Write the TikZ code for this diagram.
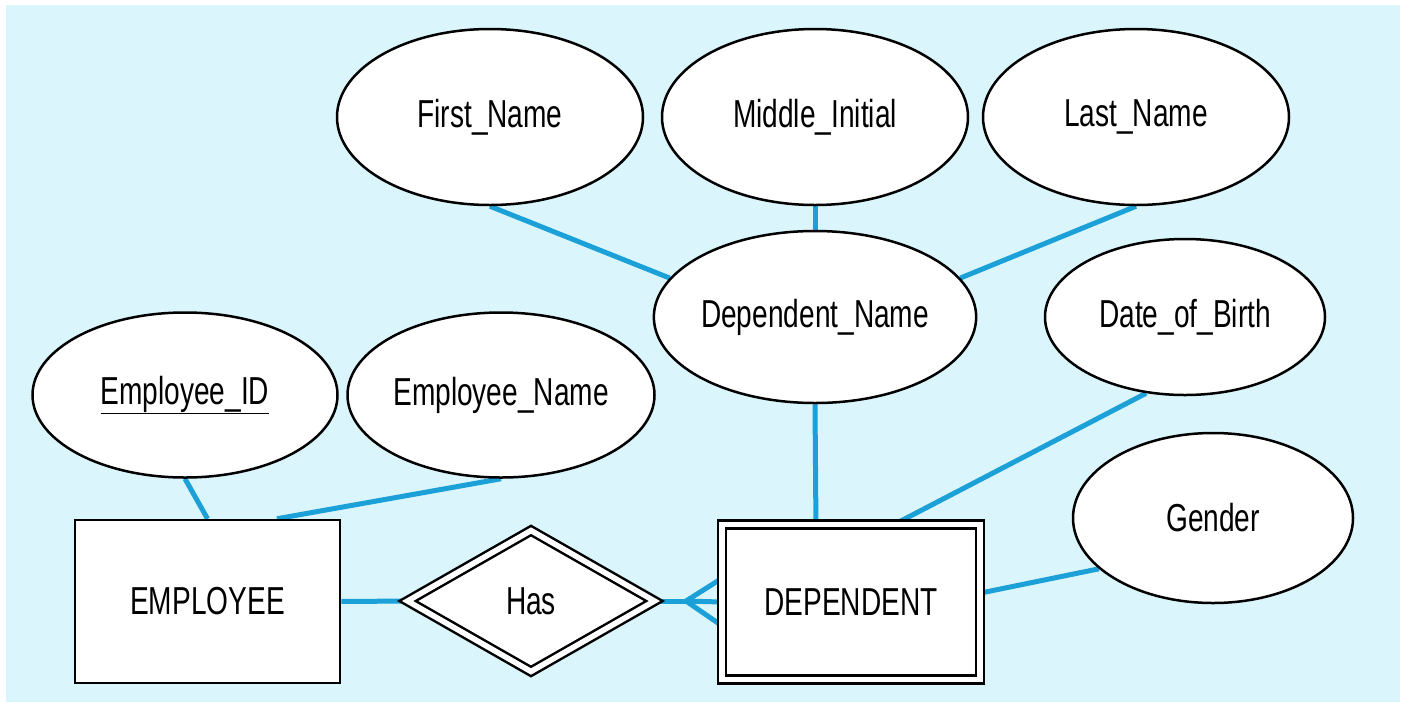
\documentclass[tikz,border=0pt]{standalone}
\usepackage{fontspec}
\setmainfont[FakeStretch=0.72]{Liberation Sans}
\usetikzlibrary{shapes.geometric}
\definecolor{paleblue}{HTML}{DAF5FC}
\definecolor{linkblue}{HTML}{1CA0D8}
\pgfdeclarelayer{back}
\pgfdeclarelayer{links}
\pgfsetlayers{back,links,main}

\begin{document}
\begin{tikzpicture}[x=1pt,y=-1pt]
	\tikzstyle{attr}=[ellipse, draw, fill=white, line width=2.5pt, inner sep=0pt, font=\fontsize{39}{44}\selectfont]
	\tikzstyle{entity}=[rectangle, draw, fill=white, line width=2.5pt, inner sep=0pt, font=\fontsize{39}{44}\selectfont]
	\tikzstyle{weak}=[entity, double, double distance=5.5pt]
	\tikzstyle{idrel}=[diamond, draw, fill=white, double, double distance=5.5pt, line width=2.5pt, inner sep=0pt, font=\fontsize{39}{44}\selectfont]
	\tikzstyle{link}=[linkblue, line width=5pt]
	\useasboundingbox (0,0) rectangle (1407,702);
	\begin{pgfonlayer}{back}
		\fill[paleblue] (6,5) rectangle (1400,702);
	\end{pgfonlayer}
	% attributes
	\node[attr, minimum width=306pt, minimum height=176pt] (first) at (490,117) {First\_Name};
	\node[attr, minimum width=306pt, minimum height=176pt] (middle) at (815,117) {Middle\_Initial};
	\node[attr, minimum width=306pt, minimum height=176pt] (last) at (1136,117) {Last\_Name};
	\node[attr, minimum width=310pt, minimum height=172pt] (depname) at (815,317) {Dependent\_Name};
	\node[attr, minimum width=280pt, minimum height=156pt] (dob) at (1185,317) {Date\_of\_Birth};
	\node[attr, minimum width=305pt, minimum height=165pt] (empid) at (185,395) {\underline{Employee\_ID}};
	\node[attr, minimum width=307pt, minimum height=165pt] (empname) at (501,395) {Employee\_Name};
	\node[attr, minimum width=280pt, minimum height=170pt] (gender) at (1213,518) {Gender};
	% entities and relationship
	\node[entity, minimum width=265pt, minimum height=163pt] (emp) at (207.5,601.5) {EMPLOYEE};
	\node[idrel, minimum width=248pt, minimum height=142pt] (has) at (531,601) {Has};
	\node[weak, minimum width=258pt, minimum height=155pt] (dep) at (851,602) {DEPENDENT};
	\coordinate (foot) at (686,601);
	\begin{pgfonlayer}{links}
		\draw[link] (first.south) -- (depname.165);
		\draw[link] (middle) -- (depname);
		\draw[link] (last.south) -- (depname.15);
		\draw[link] (depname.south) -- (dep.114);
		\draw[link] (dob.243) -- (dep.60);
		\draw[link] (gender.204) -- (dep.4);
		\draw[link] (empid.south) -- (emp.north);
		\draw[link] (empname.south) -- (emp.50);
		\draw[link] (emp) -- (has);
		\draw[link] (has.east) -- (foot);
		\draw[link] (foot) -- (dep.170);
		\draw[link] (foot) -- (dep.west);
		\draw[link] (foot) -- (dep.190);
	\end{pgfonlayer}
\end{tikzpicture}
\end{document}
